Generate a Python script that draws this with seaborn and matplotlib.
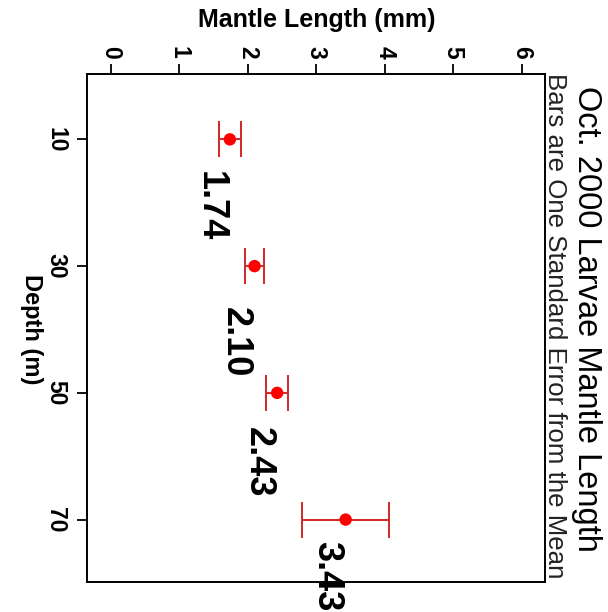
import matplotlib
matplotlib.use("Agg")
import matplotlib.pyplot as plt
import seaborn as sns
import pandas as pd

# ---- data ----
depths = [10, 30, 50, 70]
mantle_mean = [1.74, 2.10, 2.43, 3.43]
mantle_se = [0.16, 0.145, 0.165, 0.63]
value_labels = ["1.74", "2.10", "2.43", "3.43"]
x_ticks = [0, 1, 2, 3, 4, 5, 6]
y_ticks = [10, 30, 50, 70]

title = "Oct. 2000 Larvae Mantle Length"
subtitle = "Bars are One Standard Error from the Mean"
xlabel = "Mantle Length (mm)"
ylabel = "Depth (m)"

# layout offsets for value labels (in data units)
label_dx = -0.28
label_dy = [10.6, 12.0, 11.0, 8.9]

df = pd.DataFrame({"depth": depths, "mean": mantle_mean, "se": mantle_se})

sns.set_style("ticks")
plt.rcParams["font.family"] = ["Liberation Sans", "DejaVu Sans"]
plt.rcParams["text.color"] = "black"
plt.rcParams["xtick.color"] = "black"
plt.rcParams["ytick.color"] = "black"

fig = plt.figure(figsize=(6.08, 6.12), dpi=100)
ax = fig.add_axes([86.7 / 608, 1 - 581.7 / 612, (545 - 86.7) / 608, (581.7 - 74.3) / 612])

ax.errorbar(df["mean"], df["depth"], xerr=df["se"], fmt="none",
            ecolor="#d02828", elinewidth=1.4, capsize=13, capthick=1.4, zorder=2)
sns.scatterplot(data=df, x="mean", y="depth", color="#ff0000", s=80,
                edgecolor="none", ax=ax, zorder=3, legend=False)

for m, d, lab, dy in zip(mantle_mean, depths, value_labels, label_dy):
    ax.text(m + label_dx, d + dy, lab, rotation=-90, fontsize=26, fontweight="bold",
            ha="center", va="center", clip_on=False, zorder=4, color="black")

ax.set_xlim(-0.35, 6.34)
ax.set_ylim(79.8, -0.27)

ax.xaxis.tick_top()
ax.set_xticks(x_ticks)
ax.set_xticklabels([str(t) for t in x_ticks], rotation=-90, fontsize=16.5, fontweight="bold",
                   color="black")
ax.set_yticks(y_ticks)
ax.set_yticklabels([str(t) for t in y_ticks], rotation=-90, fontsize=16.5, fontweight="bold",
                   va="center", color="black")
ax.tick_params(axis="x", which="both", top=True, bottom=False, length=7, width=1.3,
               pad=4, labeltop=True, labelbottom=False, color="black")
ax.tick_params(axis="y", length=7, width=1.3, pad=7, color="black")

for sp in ax.spines.values():
    sp.set_visible(True)
    sp.set_color("black")
    sp.set_linewidth(1.4)

ax.set_xlabel("")
ax.set_ylabel("")
fig.text(317 / 608, 1 - 20 / 612, xlabel, fontsize=18, fontweight="bold",
         ha="center", va="center", color="black")
fig.text(31 / 608, 1 - 329 / 612, ylabel, fontsize=17, fontweight="bold",
         rotation=-90, ha="center", va="center", color="black")
fig.text(586.5 / 608, 1 - 319 / 612, title, fontsize=23.5, rotation=-90,
         ha="center", va="center", color="black")
fig.text(555 / 608, 1 - 326 / 612, subtitle, fontsize=18.6, rotation=-90,
         ha="center", va="center", color="#222222")

fig.savefig("out.png", dpi=100)
